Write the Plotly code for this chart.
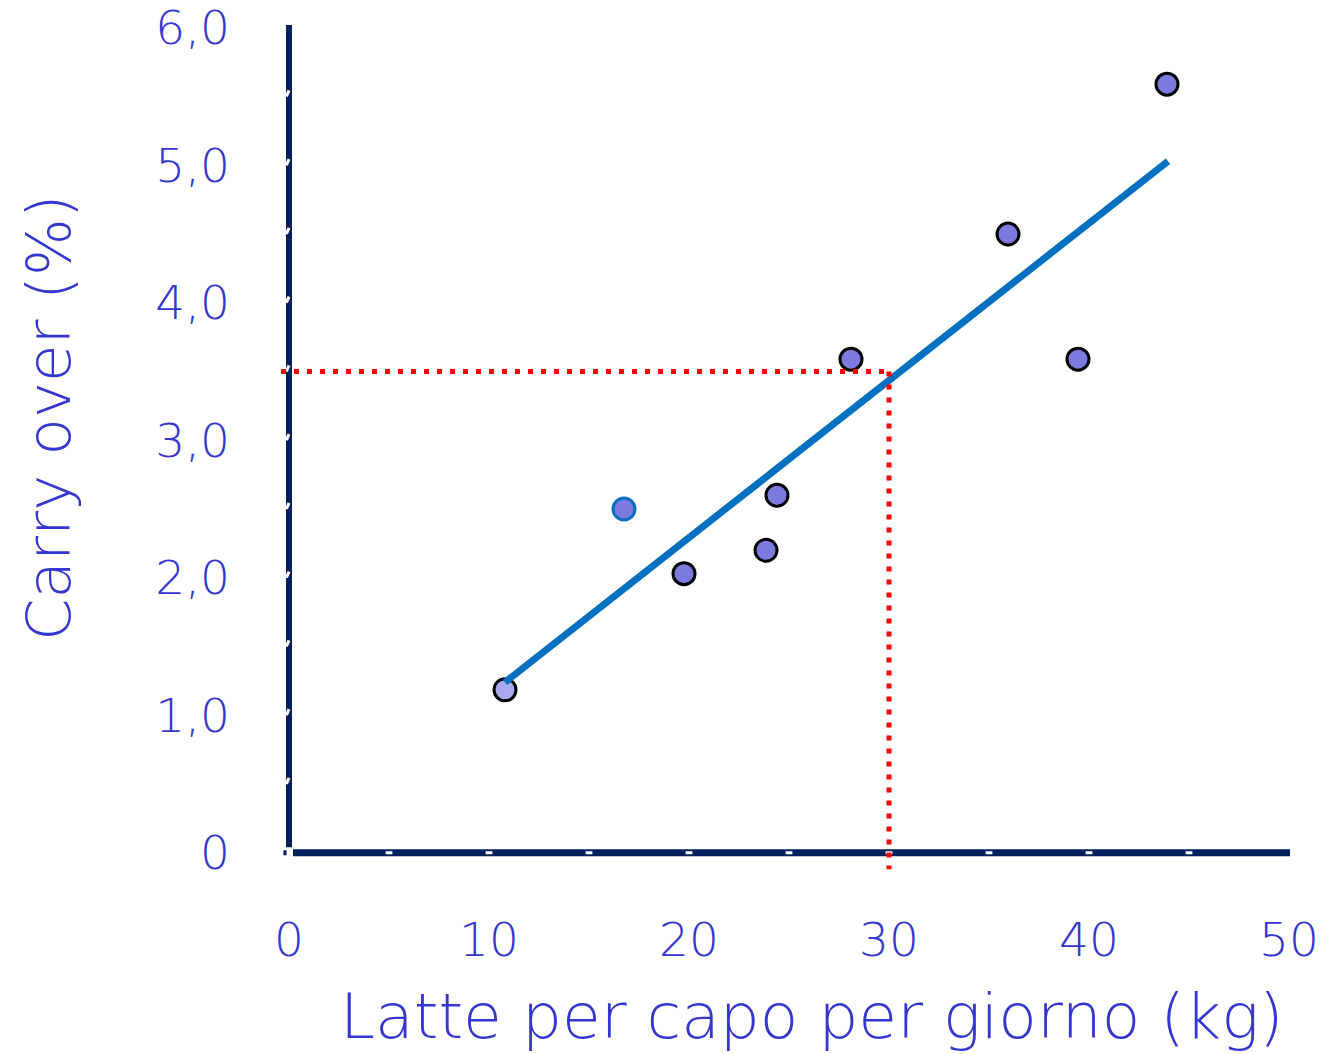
import plotly.graph_objects as go

# Data
milk_kg = [10.8, 16.75, 19.75, 23.85, 24.4, 28.1, 35.95, 39.45, 43.9]
carry_over = [1.185, 2.50, 2.03, 2.20, 2.60, 3.59, 4.50, 3.59, 5.59]
marker_fill = ["#A9A9EE", "#7B7BDF", "#7B7BDF", "#7B7BDF", "#7B7BDF",
               "#7B7BDF", "#7B7BDF", "#7B7BDF", "#7B7BDF"]
marker_edge = ["#000000", "#0070C0", "#000000", "#000000", "#000000",
               "#000000", "#000000", "#000000", "#000000"]

trend_x = [10.8, 43.95]
trend_y = [1.24, 5.03]

ref_x = 30
ref_y = 3.5

x_ticks = [0, 10, 20, 30, 40, 50]
x_tick_text = ["0", "10", "20", "30", "40", "50"]
y_ticks = [0, 1, 2, 3, 4, 5, 6]
y_tick_text = ["0", "1,0", "2,0", "3,0", "4,0", "5,0", "6,0"]
x_minor = [5, 10, 15, 20, 25, 30, 35, 40, 45]
y_minor = [0.5, 1.0, 1.5, 2.0, 2.5, 3.0, 3.5, 4.0, 4.5, 5.0, 5.5]

TXT = "#3535CF"
NAVY = "#001F5B"
FONT = "'DejaVu Sans', sans-serif"

fig = go.Figure()

fig.add_trace(go.Scatter(
    x=milk_kg, y=carry_over, mode="markers",
    marker=dict(size=22, color=marker_fill,
                line=dict(color=marker_edge, width=3)),
    showlegend=False, hoverinfo="x+y"))

fig.add_trace(go.Scatter(
    x=trend_x, y=trend_y, mode="lines",
    line=dict(color="#0070C0", width=7),
    showlegend=False, hoverinfo="skip"))

shapes = []
# axis lines
shapes.append(dict(type="line", xref="x", yref="y", x0=0, x1=0, y0=0.04, y1=6.02,
                   line=dict(color=NAVY, width=6), layer="above"))
shapes.append(dict(type="line", xref="x", yref="y", x0=0.2, x1=50.05, y0=0, y1=0,
                   line=dict(color=NAVY, width=7), layer="above"))
shapes.append(dict(type="line", xref="x", yref="y", x0=-0.28, x1=-0.12, y0=0, y1=0,
                   line=dict(color=NAVY, width=5), layer="above"))
# small white notches on the axis lines
for yv in y_minor:
    shapes.append(dict(type="line", xref="x", yref="y", x0=-0.13, x1=0.0,
                       y0=yv, y1=yv + 0.045,
                       line=dict(color="white", width=3), layer="above"))
for xv in x_minor:
    shapes.append(dict(type="line", xref="x", yref="y", x0=xv - 0.17, x1=xv + 0.17,
                       y0=0.0, y1=0.0,
                       line=dict(color="white", width=3), layer="above"))
# red dotted reference lines
shapes.append(dict(type="line", xref="x", yref="y", x0=-0.4, x1=ref_x, y0=ref_y, y1=ref_y,
                   line=dict(color="#FF0000", width=5, dash="5px,8px"), layer="above"))
shapes.append(dict(type="line", xref="x", yref="y", x0=ref_x, x1=ref_x, y0=ref_y, y1=-0.12,
                   line=dict(color="#FF0000", width=5, dash="5px,8px"), layer="above"))

fig.update_layout(
    width=1324, height=1054,
    margin=dict(l=269, r=15, t=14, b=160, autoexpand=False),
    paper_bgcolor="white", plot_bgcolor="white",
    font=dict(family=FONT, color=TXT, weight=300),
    shapes=shapes,
    annotations=[
        dict(text="Latte per capo per giorno (kg)", xref="paper", yref="paper",
             x=(812 - 269) / 1040, y=(894 - 1016) / 880,
             xanchor="center", yanchor="middle", showarrow=False,
             font=dict(size=63, color=TXT, family=FONT, weight=300)),
        dict(text="Carry over (%)", xref="paper", yref="paper",
             x=(48 - 269) / 1040, y=(894 - 418) / 880,
             xanchor="center", yanchor="middle", showarrow=False, textangle=-90,
             font=dict(size=61, color=TXT, family=FONT, weight=300)),
    ],
)

fig.update_xaxes(range=[-1, 51], showgrid=False, zeroline=False, showline=False,
                 tickvals=x_ticks, ticktext=x_tick_text, ticks="",
                 tickfont=dict(size=47, color=TXT, family=FONT, weight=300),
                 ticklabelstandoff=14, automargin=False, ticklabeloverflow="allow")
fig.update_yaxes(range=[-0.3, 6.1], showgrid=False, zeroline=False, showline=False,
                 tickvals=y_ticks, ticktext=y_tick_text, ticks="",
                 tickfont=dict(size=47, color=TXT, family=FONT, weight=300),
                 ticklabelstandoff=38, automargin=False, ticklabeloverflow="allow")

fig.write_html("out.html",
               config={"displayModeBar": False},
               post_script="document.body.style.margin='0';document.body.style.overflow='hidden';")
